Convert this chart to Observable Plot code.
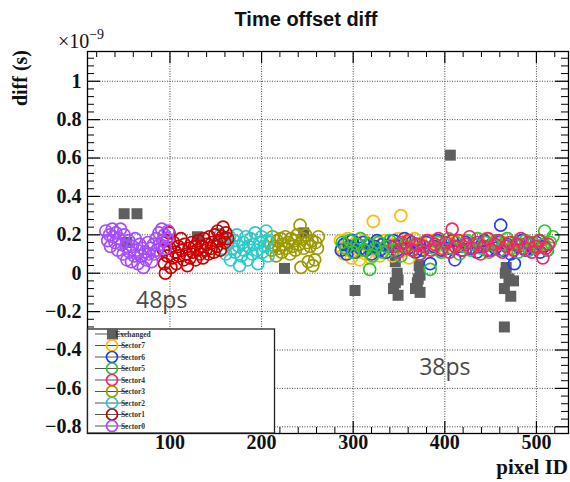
<!DOCTYPE html>
<html><head><meta charset="utf-8">
<script src="https://cdn.jsdelivr.net/npm/d3@7"></script>
<script src="https://cdn.jsdelivr.net/npm/@observablehq/plot@0.6"></script>
<style>
html,body{margin:0;padding:0;background:#fff;}
#chart{width:570px;height:482px;}
#chart svg text{font-family:"Liberation Serif","Times New Roman",serif;}
#chart svg text.note{font-family:"Open Sans",sans-serif;}
#chart svg text.ttl{font-family:"Liberation Sans",Arial,sans-serif;}
</style></head><body><div id="chart"></div>
<script>
// ---- data (diff in units of 1e-9 s) ----
const seriesNames = ["Exchanged","Sector7","Sector6","Sector5","Sector4","Sector3","Sector2","Sector1","Sector0"];
const seriesColors = ["#5f5f5f","#ffbb00","#1f3cff","#2ec82e","#ff1f66","#9c9a00","#2ccaca","#cc0000","#a64dff"];

const exchanged = [[50,0.31],[64,0.31],[53,0.16],[130,0.19],[225,0.025],[246,0.21],[302,-0.09],
 [346,0.06],[348,0.0],[349,-0.035],[344,-0.08],[349,-0.115],[346,-0.05],
 [372,0.04],[373,-0.01],[370,-0.05],[368,-0.08],[373,-0.1],[371,-0.03],
 [406,0.615],
 [467,0.03],[470,-0.03],[475,-0.04],[465,-0.08],[472,-0.12],[466,0.0],[465,-0.28]];

const sector0 = [[30,0.22],[32,0.17],[34,0.20],[35,0.14],[37,0.23],[38,0.19],[40,0.16],[41,0.21],[43,0.12],[44,0.18],[46,0.23],[47,0.15],[49,0.10],[50,0.20],[52,0.14],[53,0.07],[55,0.17],[56,0.11],[58,0.06],[59,0.14],[61,0.09],[62,0.18],[64,0.12],[65,0.05],[67,0.15],[68,0.09],[70,0.13],[71,0.03],[73,0.11],[74,0.07],[76,0.16],[77,0.10],[79,0.13],[80,0.06],[82,0.15],[83,0.10],[85,0.18],[86,0.12],[88,0.21],[89,0.15],[91,0.23],[92,0.17],[94,0.20],[95,0.13],[97,0.18],[98,0.22]];
const sector1 = [[93,0.12],[94,0.05],[95,0.0],[96,0.17],[97,0.09],[99,0.21],[100,0.13],[101,0.03],[103,0.08],[104,0.16],[106,0.11],[107,0.05],[109,0.14],[110,0.09],[112,0.18],[113,0.12],[115,0.07],[116,0.15],[118,0.10],[119,0.04],[121,0.13],[122,0.08],[124,0.16],[125,0.11],[127,0.14],[128,0.07],[130,0.12],[131,0.17],[133,0.10],[134,0.14],[136,0.08],[137,0.18],[139,0.12],[140,0.15],[142,0.10],[143,0.19],[145,0.13],[146,0.16],[148,0.11],[149,0.20],[151,0.14],[152,0.22],[154,0.17],[155,0.12],[157,0.19],[158,0.24],[160,0.16],[161,0.21],[163,0.18]];
const sector2 = [[153,0.17],[155,0.20],[157,0.13],[159,0.18],[161,0.10],[163,0.15],[165,0.19],[166,0.07],[168,0.13],[170,0.17],[171,0.11],[173,0.20],[175,0.14],[176,0.04],[178,0.09],[180,0.16],[181,0.12],[183,0.19],[185,0.07],[186,0.14],[188,0.18],[190,0.10],[191,0.15],[193,0.21],[195,0.12],[196,0.05],[198,0.16],[200,0.19],[201,0.11],[203,0.14],[205,0.22],[206,0.17],[207,0.09]];
const sector3 = [[209,0.16],[211,0.12],[212,0.19],[214,0.14],[216,0.09],[217,0.17],[219,0.13],[221,0.18],[222,0.11],[224,0.15],[226,0.19],[227,0.13],[229,0.16],[231,0.10],[232,0.18],[234,0.14],[236,0.17],[237,0.12],[239,0.20],[241,0.15],[242,0.25],[243,0.03],[245,0.18],[246,0.13],[248,0.20],[250,0.16],[251,0.06],[253,0.14],[255,0.17],[256,0.04],[258,0.07],[259,0.16],[261,0.13],[262,0.19]];
const sector4 = [[345,0.14],[349,0.11],[353,0.16],[357,0.13],[361,0.17],[365,0.12],[369,0.15],[373,0.10],[377,0.14],[381,0.17],[385,0.12],[389,0.15],[393,0.18],[397,0.13],[401,0.16],[405,0.11],[408,0.23],[411,0.14],[415,0.17],[419,0.12],[423,0.15],[427,0.19],[431,0.13],[435,0.16],[439,0.10],[443,0.14],[447,0.18],[451,0.12],[455,0.15],[459,0.17],[463,0.11],[467,0.14],[471,0.16],[475,0.12],[479,0.15],[483,0.18],[487,0.13],[491,0.16],[495,0.11],[499,0.14],[503,0.17],[507,0.08],[510,0.13],[513,0.15]];
const sector5 = [[288,0.16],[292,0.13],[296,0.17],[300,0.11],[304,0.15],[308,0.18],[312,0.12],[316,0.15],[318,0.02],[321,0.09],[324,0.13],[328,0.16],[332,0.11],[336,0.14],[340,0.17],[344,0.12],[348,0.15],[352,0.09],[356,0.14],[360,0.17],[364,0.12],[368,0.15],[372,0.10],[376,0.14],[380,0.17],[384,0.02],[388,0.13],[392,0.16],[396,0.11],[400,0.15],[404,0.18],[408,0.13],[412,0.16],[416,0.10],[420,0.14],[424,0.17],[428,0.12],[432,0.15],[436,0.18],[440,0.13],[444,0.16],[448,0.11],[452,0.15],[456,0.17],[460,0.12],[464,0.15],[468,0.18],[472,0.13],[476,0.16],[480,0.11],[484,0.15],[488,0.17],[492,0.12],[496,0.16],[500,0.13],[504,0.17],[508,0.15],[509,0.22],[512,0.12],[515,0.16],[518,0.19]];
const sector6 = [[287,0.12],[290,0.15],[293,0.10],[296,0.14],[299,0.17],[302,0.11],[305,0.15],[308,0.13],[311,0.16],[314,0.12],[317,0.15],[320,0.10],[323,0.14],[326,0.17],[329,0.12],[332,0.15],[336,0.11],[340,0.14],[344,0.17],[348,0.12],[352,0.15],[356,0.18],[360,0.13],[364,0.16],[368,0.11],[372,0.15],[376,0.12],[380,0.16],[384,0.05],[388,0.14],[392,0.17],[396,0.12],[400,0.15],[404,0.13],[408,0.17],[411,0.07],[415,0.14],[419,0.12],[423,0.16],[427,0.13],[431,0.15],[435,0.11],[439,0.14],[443,0.17],[447,0.12],[451,0.15],[455,0.13],[459,0.16],[461,0.25],[464,0.12],[468,0.15],[472,0.10],[476,0.05],[480,0.14],[484,0.17],[488,0.12],[492,0.15],[496,0.13],[500,0.16],[504,0.11],[508,0.14],[512,0.12]];
const sector7 = [[286,0.17],[288,0.13],[290,0.10],[292,0.15],[294,0.18],[296,0.12],[298,0.08],[300,0.14],[303,0.16],[305,0.11],[307,0.07],[309,0.13],[312,0.17],[314,0.10],[316,0.14],[319,0.08],[322,0.27],[324,0.12],[326,0.16],[329,0.09],[331,0.13],[334,0.17],[337,0.11],[340,0.15],[343,0.09],[346,0.14],[349,0.18],[352,0.30],[355,0.12],[358,0.16],[361,0.08],[364,0.14],[367,0.18],[371,0.12],[375,0.15],[380,0.13],[386,0.17],[392,0.14],[398,0.12],[405,0.16],[412,0.14],[420,0.17],[428,0.13],[436,0.15],[445,0.18],[455,0.14],[465,0.16],[475,0.13],[485,0.17],[495,0.15],[505,0.14]];

const xMajorTicks = [100,200,300,400,500];
const xTickLabels = ["100","200","300","400","500"];
const yMajorTicks = [-0.8,-0.6,-0.4,-0.2,0,0.2,0.4,0.6,0.8,1];
const yTickLabels = ["\u22120.8","\u22120.6","\u22120.4","\u22120.2","0","0.2","0.4","0.6","0.8","1"];
const notes = [{text:"48ps", x:63, y:-0.145},{text:"38ps", x:372, y:-0.49}];

// ---- build tables (drawn in legend order: Sector7 first ... Sector0 last) ----
const sectorArrays = [sector0,sector1,sector2,sector3,sector4,sector5,sector6,sector7];
const circles = [];
for (let i = 7; i >= 0; i--) sectorArrays[i].forEach(([p,d])=>circles.push({pid:p,diff:d,series:"Sector"+i}));
const squares = exchanged.map(([p,d])=>({pid:p,diff:d,series:"Exchanged"}));

const W=570,H=482,mL=87,mR=2,mT=51,mB=49;
const fw=W-mL-mR, fh=H-mT-mB;
const xMinor = d3.range(20,535,20).filter(v=>v%100!==0);
const yMinor = d3.range(-0.8,1.16,0.04).map(v=>+v.toFixed(2)).filter(v=>Math.abs(v*5-Math.round(v*5))>1e-6);
const serif = "Liberation Serif";

const chart = Plot.plot({
  width:W,height:H,marginLeft:mL,marginRight:mR,marginTop:mT,marginBottom:mB,
  x:{domain:[10,535],axis:null},
  y:{domain:[-0.835,1.155],axis:null},
  color:{domain:seriesNames,range:seriesColors},
  style:{background:"#fff",overflow:"visible",fontFamily:serif},
  marks:[
    Plot.gridX(xMajorTicks,{stroke:"#333",strokeOpacity:0.9,strokeDasharray:"1,1.5"}),
    Plot.gridY(yMajorTicks,{stroke:"#333",strokeOpacity:0.9,strokeDasharray:"1,1.5"}),
    Plot.dot(squares,{x:"pid",y:"diff",symbol:"square",r:6.2,fill:"#5f5f5f",stroke:null}),
    Plot.dot(circles,{x:"pid",y:"diff",stroke:"series",fill:"none",r:6,strokeWidth:1.7,sort:null}),
    Plot.tickX(xMajorTicks,{x:d=>d,insetTop:fh-12,stroke:"#000",strokeWidth:1.2}),
    Plot.tickX(xMajorTicks,{x:d=>d,insetBottom:fh-12,stroke:"#000",strokeWidth:1.2}),
    Plot.tickX(xMinor,{x:d=>d,insetTop:fh-6,stroke:"#000"}),
    Plot.tickX(xMinor,{x:d=>d,insetBottom:fh-6,stroke:"#000"}),
    Plot.tickY(yMajorTicks,{y:d=>d,insetRight:fw-13,stroke:"#000",strokeWidth:1.2}),
    Plot.tickY(yMajorTicks,{y:d=>d,insetLeft:fw-13,stroke:"#000",strokeWidth:1.2}),
    Plot.tickY(yMinor,{y:d=>d,insetRight:fw-7,stroke:"#000"}),
    Plot.tickY(yMinor,{y:d=>d,insetLeft:fw-7,stroke:"#000"}),
    Plot.text(xMajorTicks,{x:d=>d,text:(d,i)=>xTickLabels[i],frameAnchor:"bottom",dy:15,fontSize:20,fontWeight:"bold",fill:"#111"}),
    Plot.text(yMajorTicks,{y:d=>d,text:(d,i)=>yTickLabels[i],frameAnchor:"left",dx:-6,textAnchor:"end",fontSize:20,fontWeight:"bold",fill:"#111"}),
    Plot.text(notes,{x:"x",y:"y",text:"text",textAnchor:"start",fontSize:23,fill:"#4a4a4a"}),
    Plot.frame({stroke:"#000",strokeWidth:1.3})
  ]
});
document.getElementById("chart").appendChild(chart);

const svg = d3.select(chart);
svg.selectAll("text").filter(function(){ return /ps$/.test(this.textContent); }).classed("note", true);

// title
svg.append("text").attr("class","ttl").attr("x",306).attr("y",26).attr("text-anchor","middle")
  .attr("font-weight","bold").attr("font-size",20).attr("fill","#111").text("Time offset diff");
// exponent
const ex = svg.append("text").attr("x",81).attr("y",48).attr("font-size",20).attr("fill","#111");
ex.append("tspan").text("\u00d710");
ex.append("tspan").attr("dy",-9).attr("font-size",14).text("\u22129");
// y label
svg.append("text").attr("transform","translate(27,50) rotate(-90)").attr("text-anchor","end")
  .attr("font-weight","bold").attr("font-size",20).attr("fill","#111").text("diff (s)");
// x label
svg.append("text").attr("x",568).attr("y",474).attr("text-anchor","end")
  .attr("font-weight","bold").attr("font-size",21).attr("fill","#111").text("pixel ID");

// legend
const lg = svg.append("g");
lg.append("rect").attr("x",87.5).attr("y",329).attr("width",187).attr("height",104)
  .attr("fill","#fff").attr("stroke","#222").attr("stroke-width",1.3);
const rowY0 = 334, rowStep = 11.5;
seriesNames.forEach((name,i)=>{
  const y = rowY0 + i*rowStep;
  lg.append("line").attr("x1",95).attr("x2",128).attr("y1",y).attr("y2",y).attr("stroke","#555").attr("stroke-width",1.2);
  if (i===0) {
    lg.append("rect").attr("x",107).attr("y",y-5.5).attr("width",11).attr("height",11).attr("fill",seriesColors[i]);
  } else {
    lg.append("circle").attr("cx",112).attr("cy",y).attr("r",5.5).attr("fill","none").attr("stroke",seriesColors[i]).attr("stroke-width",1.7);
  }
  lg.append("text").attr("x",133).attr("y",y).attr("dy","0.35em")
    .attr("font-weight","bold").attr("font-size",7.5).attr("fill","#333").text(name);
});
</script>
</body></html>
